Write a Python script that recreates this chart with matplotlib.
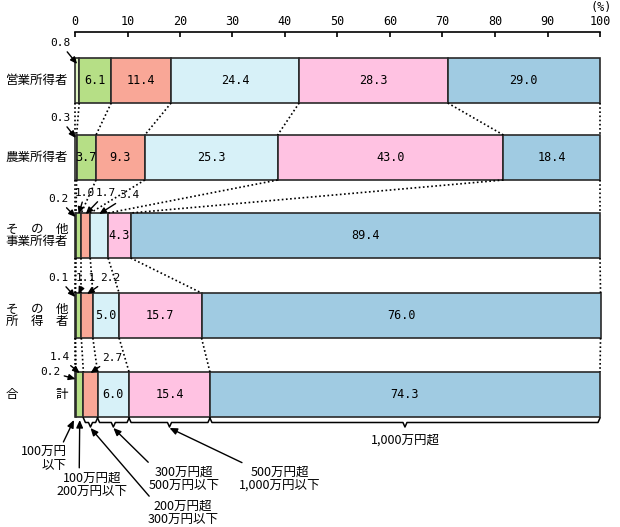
import matplotlib
matplotlib.use("Agg")
import numpy as np
import matplotlib.pyplot as plt

# Data (%)
rows = ["営業所得者", "農業所得者", "そ　の　他\n事業所得者", "そ　の　他\n所　得　者", "合　　　計"]
brackets = ["100万円\n以下", "100万円超\n200万円以下", "200万円超\n300万円以下",
            "300万円超\n500万円以下", "500万円超\n1,000万円以下", "1,000万円超"]
eigyo = [0.8, 6.1, 11.4, 24.4, 28.3, 29.0]
nogyo = [0.3, 3.7, 9.3, 25.3, 43.0, 18.4]
sonota_jigyo = [0.2, 1.0, 1.7, 3.4, 4.3, 89.4]
sonota = [0.1, 1.1, 2.2, 5.0, 15.7, 76.0]
gokei = [0.2, 1.4, 2.7, 6.0, 15.4, 74.3]
values = [eigyo, nogyo, sonota_jigyo, sonota, gokei]

colors = ["#dff3c2", "#b6df86", "#f9a797", "#d7f1f8", "#ffc2e2", "#a0cbe2"]
JP = ["Noto Sans CJK JP", "DejaVu Sans"]
MONO = "DejaVu Sans Mono"

# layout (pixels)
S = 5.25      # px per percent
X0 = 75       # px of 0%
row_y = [80.5, 157.5, 235.5, 315.5, 394.5]
bar_h = 45


def px(x):
    return (x - X0) / S


fig = plt.figure(figsize=(6.2, 5.27), dpi=100)
ax = fig.add_axes([0, 0, 1, 1])
ax.set_xlim(px(0), px(620))
ax.set_ylim(527, 0)

for s in ["left", "right", "bottom"]:
    ax.spines[s].set_visible(False)
ax.spines["top"].set_position(("data", 32))
ax.spines["top"].set_bounds(0, 100)
ax.spines["top"].set_linewidth(1.2)
ax.xaxis.set_ticks_position("top")
ax.set_xticks(range(0, 101, 10))
ax.set_yticks([])
ax.tick_params(axis="x", direction="in", length=3.5, width=1.2, pad=3, labelsize=8.5)
for t in ax.get_xticklabels():
    t.set_fontfamily(MONO)
ax.text(px(601), 8, "(%)", fontsize=8.5, family=MONO, ha="center", va="center")

# bars
cums = []
for i, vals in enumerate(values):
    vals = np.array(vals)
    left = np.concatenate([[0], np.cumsum(vals)[:-1]])
    cums.append(np.concatenate([[0], np.cumsum(vals)]))
    ax.barh(row_y[i], vals, left=left, height=bar_h, color=colors,
            edgecolor="#2a2a2a", linewidth=1.2)
    for v, l in zip(vals, left):
        if v >= 3.5:
            ax.text(l + v / 2, row_y[i], f"{v:.1f}", ha="center", va="center",
                    fontsize=8.5, family=MONO)
    ax.text(px(68), row_y[i], rows[i], ha="right", va="center", fontsize=9,
            family=JP, linespacing=0.95)

# dotted connectors
for i in range(len(values) - 1):
    bot = row_y[i] + bar_h / 2
    top = row_y[i + 1] - bar_h / 2
    for a, b in zip(cums[i], cums[i + 1]):
        ax.plot([a, b], [bot, top], color="black", lw=1.2, ls=(0, (1, 1.5)))

arrow = dict(arrowstyle="-|>,head_length=0.5,head_width=0.22", color="black",
             lw=1.0, shrinkA=1, shrinkB=0)

# small value callouts: (row, segment, text x px, text y px, tip dy)
callouts = [(0, 0, 60, 43, 6), (1, 0, 60, 118, 3), (2, 0, 58, 199, 4),
            (2, 1, 85, 193, 1), (2, 2, 106, 193, 1), (2, 3, 129, 195, 1),
            (3, 0, 58, 278, 4), (3, 1, 86, 278, 1), (3, 2, 110, 278, 1),
            (4, 0, 50, 372, 7), (4, 1, 60, 357, 1), (4, 2, 112, 358, 1)]
for r, k, tx, ty, dy in callouts:
    c = cums[r]
    v = values[r][k]
    tip = ((c[k] + c[k + 1]) / 2, row_y[r] - bar_h / 2 + dy)
    ax.annotate(f"{v:.1f}", xy=tip, xytext=(px(tx), ty), fontsize=8, family=MONO,
                ha="center", va="center", arrowprops=arrow)

# braces under total bar
c = cums[-1]
by = row_y[-1] + bar_h / 2
d = 2 / S
for k in range(2, 6):
    x0, x1 = c[k], c[k + 1]
    xm = (x0 + x1) / 2
    ax.plot([x0, x0 + d, xm - d, xm, xm + d, x1 - d, x1],
            [by + 1, by + 5.5, by + 5.5, by + 10, by + 5.5, by + 5.5, by + 1],
            color="black", lw=1.1)

tip_y = by + 11
# bottom labels: (text x px, text y px, ha, relpos, tip)
bottom = [
    (67, 459, "right", (0.88, 1.0), ((c[0] + c[1]) / 2 - 0.3, by + 3)),
    (92, 485, "center", (0.32, 1.0), ((c[1] + c[2]) / 2, by + 3)),
    (183, 513, "center", (0.07, 1.0), ((c[2] + c[3]) / 2, tip_y)),
    (184, 479, "center", (0.05, 1.0), ((c[3] + c[4]) / 2, tip_y)),
    (280, 479, "center", (0.12, 1.0), ((c[4] + c[5]) / 2, tip_y)),
]
for lab, (tx, ty, ha, rp, tip) in zip(brackets, bottom):
    ap = dict(arrow, relpos=rp)
    ax.annotate(lab, xy=tip, xytext=(px(tx), ty), fontsize=9, family=JP,
                ha=ha, va="center", multialignment=ha, linespacing=1.0,
                arrowprops=ap)
ax.text((c[5] + c[6]) / 2, 440, brackets[5], fontsize=9, family=JP,
        ha="center", va="center")

fig.savefig("out.png", dpi=100)
